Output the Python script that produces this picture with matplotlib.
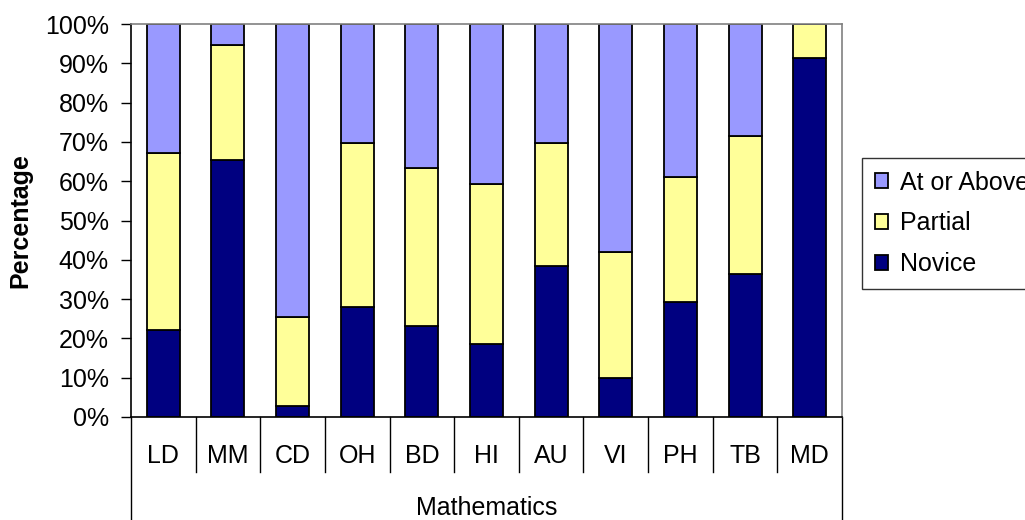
import matplotlib.pyplot as plt
import numpy as np

plt.rcParams['font.family'] = ['Liberation Sans', 'DejaVu Sans']

# Values (percent)
schools = ['LD', 'MM', 'CD', 'OH', 'BD', 'HI', 'AU', 'VI', 'PH', 'TB', 'MD']
novice = [22.1, 65.4, 2.8, 27.9, 23.1, 18.7, 38.5, 10.0, 29.3, 36.5, 91.4]
partial_top = [67.2, 94.7, 25.5, 69.6, 63.4, 59.2, 69.6, 41.9, 61.0, 71.6, 100.0]
partial = [t - n for t, n in zip(partial_top, novice)]
above = [100 - t for t in partial_top]
group_label = 'Mathematics'

c_novice = '#000080'
c_partial = '#FFFF99'
c_above = '#9999FF'
fs = 18

fig = plt.figure(figsize=(10.25, 5.2), dpi=100)
ax = fig.add_axes([131 / 1025, 103 / 520, 711 / 1025, 393 / 520])

x = np.arange(len(schools))
bar_kw = dict(width=0.51, edgecolor='black', linewidth=1.3)
b1 = ax.bar(x, novice, color=c_novice, label='Novice', **bar_kw)
b2 = ax.bar(x, partial, bottom=novice, color=c_partial, label='Partial', **bar_kw)
b3 = ax.bar(x, above, bottom=partial_top, color=c_above, label='At or Above', **bar_kw)

ax.set_xlim(-0.5, len(schools) - 0.5)
ax.set_ylim(0, 100)
ax.set_yticks(range(0, 101, 10))
ax.set_yticklabels([f'{v}%' for v in range(0, 101, 10)], fontsize=fs)
ax.tick_params(axis='y', direction='out', length=7, width=1, pad=9)
ax.set_xticks([])

for s in ['top', 'right']:
    ax.spines[s].set_color('#808080')
    ax.spines[s].set_linewidth(1.2)
for s in ['left', 'bottom']:
    ax.spines[s].set_color('black')
    ax.spines[s].set_linewidth(1.2)

ax.set_ylabel('Percentage', fontsize=fs, fontweight='bold', va='center')
ax.yaxis.set_label_coords(-111 / 711, 0.5)

# multi-level category axis
trans = ax.get_xaxis_transform()
for k in range(1, len(schools)):
    ax.plot([k - 0.5, k - 0.5], [0, -0.14], transform=trans, color='black',
            linewidth=1, clip_on=False)
for edge in [-0.5, len(schools) - 0.5]:
    ax.plot([edge, edge], [0, -0.27], transform=trans, color='black',
            linewidth=1, clip_on=False)
for xi, name in zip(x, schools):
    ax.text(xi, -0.1, name, transform=trans, ha='center', va='center', fontsize=fs)
ax.text((len(schools) - 1) / 2, -0.232, group_label, transform=trans,
        ha='center', va='center', fontsize=fs)

leg = fig.legend([b3, b2, b1], ['At or Above', 'Partial', 'Novice'],
                 loc='upper left', bbox_to_anchor=(862 / 1025, 1 - 158 / 520),
                 fontsize=fs, frameon=True, fancybox=False, shadow=False,
                 handlelength=0.55, handleheight=0.55, handletextpad=0.45,
                 labelspacing=0.67, borderpad=0.5, borderaxespad=0)
leg.get_frame().set_edgecolor('black')
leg.get_frame().set_linewidth(1)

fig.savefig('out.png', dpi=100)
